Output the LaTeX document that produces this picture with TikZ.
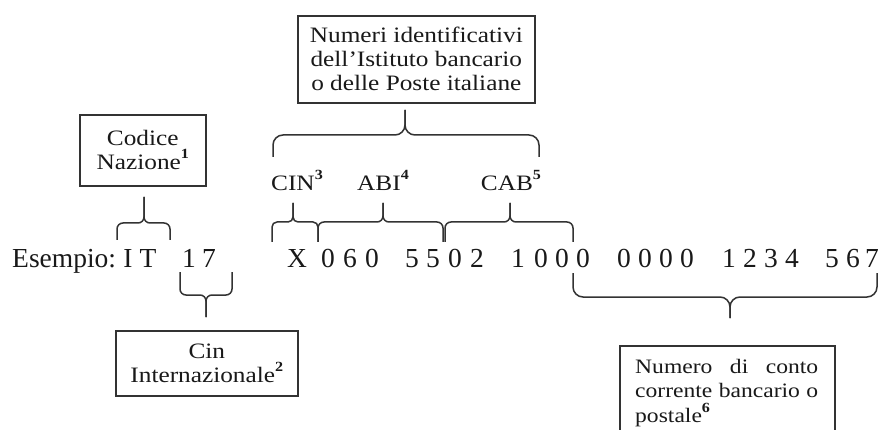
\documentclass[tikz,border=0pt]{standalone}
\usepackage{fontspec}
\setmainfont{Liberation Serif}[FakeStretch=1.15]
\newfontfamily\linefont{Liberation Serif}
\newcommand\mybrace[7]{%
  \draw[brc, rounded corners=#7] (#1,#4) -- (#1,#5) -- (#3,#5) -- (#3,#6);
  \draw[brc, rounded corners=#7] (#2,#4) -- (#2,#5) -- (#3,#5) -- (#3,#6);}
\newcommand\supnum[1]{\raisebox{0.5em}{\fontsize{14}{14}\selectfont\bfseries #1}}
\begin{document}
\begin{tikzpicture}[x=1pt,y=-1pt,
  box/.style={draw=black!80, line width=1.6pt, inner sep=0pt},
  txt/.style={inner sep=0pt, text=black!90, font=\fontsize{22}{24}\selectfont},
  big/.style={font=\linefont\fontsize{27.5}{30}\selectfont},
  brc/.style={draw=black!80, line width=1.5pt}]
\clip (0,0) rectangle (880,430);
\useasboundingbox (0,0) rectangle (880,430);
\fill[white] (0,0) rectangle (880,430);
% boxes
\node[box, txt, align=center, minimum width=126pt, minimum height=71pt, anchor=north west] (bnaz) at (79,114) {Codice\\Nazione\supnum{1}};
\node[box, txt, align=center, minimum width=237pt, minimum height=87pt, anchor=north west] (bnum) at (297,15) {Numeri identificativi\\dell’Istituto bancario\\o delle Poste italiane};
\node[box, txt, align=center, minimum width=182pt, minimum height=65pt, anchor=north west] (bcin) at (115,330) {Cin\\Internazionale\supnum{2}};
\node[box, minimum width=215pt, minimum height=110pt, anchor=north west] (bconto) at (619,345) {};
\node[txt, font=\fontsize{20.5}{24.5}\selectfont, text width=183pt, align=left, anchor=north west] (tconto) at (635,359) {Numero\hfill di\hfill conto\\corrente\hfill bancario\hfill o\\postale\supnum{6}};
% labels
\node[txt, anchor=base] (lcin) at (297,191) {CIN\supnum{3}};
\node[txt, anchor=base] (labi) at (383,191) {ABI\supnum{4}};
\node[txt, anchor=base] (lcab) at (511,191) {CAB\supnum{5}};
% example line
\node[txt, big, anchor=base west] (esempio) at (12,267) {Esempio:};
\foreach \x/\c [count=\i] in {128/I,148/T,189/1,209/7,297/X,328/0,350/6,372/0,412/5,433/5,455/0,477/2,518/1,541/0,562/0,583/0,624/0,645/0,666/0,687/0,729/1,750/2,771/3,792/4,832/5,853/6,872/7}
  \node[txt, big, anchor=base] (ch\i) at (\x,267) {\c};
% braces
\mybrace{117}{170}{144}{240}{223}{197}{6pt}
\mybrace{180}{232}{206}{272}{295}{317}{6pt}
\mybrace{272}{318}{293}{242}{222}{203}{5pt}
\mybrace{318}{443}{383}{242}{222}{203}{6pt}
\mybrace{445}{573}{510}{242}{222}{203}{6pt}
\mybrace{273}{539}{405}{157}{135}{110}{10pt}
\mybrace{573}{877}{730}{273}{297}{318}{10pt}
\end{tikzpicture}
\end{document}
